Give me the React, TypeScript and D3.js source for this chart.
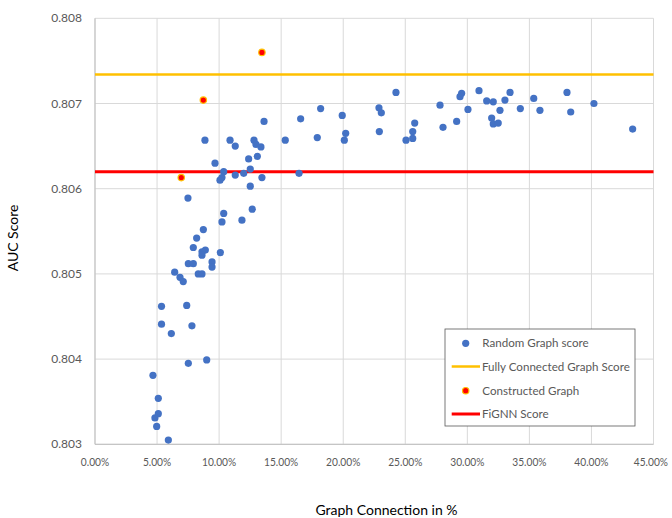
import React from "react";
import * as d3 from "d3";

// Random graph scores: connection (%) and AUC
const randomX = [
  5.36, 7.39, 5.36, 7.81, 6.15, 9.0, 7.52, 4.67, 5.1, 5.1, 4.83, 4.97, 5.91,
  6.42, 6.85, 7.11, 7.52, 7.92, 8.32, 8.62, 9.43, 9.43, 10.1, 7.92, 8.89, 8.62,
  8.62, 8.19, 8.73, 10.23, 10.37, 11.84, 12.67, 7.49, 12.51, 10.23, 10.07,
  10.37, 11.3, 11.98, 12.51, 13.45, 9.67, 12.38, 13.08, 8.86, 10.88, 11.3,
  12.81, 12.97, 13.37, 15.33, 13.62, 16.44, 16.57, 17.91, 18.18, 19.92, 20.2,
  20.09, 22.88, 23.07, 22.91, 24.25, 25.06, 25.6, 25.76, 25.6, 27.8, 28.04,
  29.14, 29.41, 29.54, 30.05, 30.94, 31.56, 32.09, 31.96, 32.09, 32.49, 32.63,
  33.03, 33.44, 34.27, 35.35, 35.85, 38.03, 38.33, 40.2, 43.32,
];
const randomY = [
  0.80462, 0.80463, 0.80441, 0.80439, 0.8043, 0.80399, 0.80395, 0.80381,
  0.80354, 0.80336, 0.80331, 0.80321, 0.80305, 0.80502, 0.80496, 0.80491,
  0.80512, 0.80512, 0.805, 0.805, 0.80514, 0.80508, 0.80525, 0.80531, 0.80528,
  0.80526, 0.80522, 0.80542, 0.80552, 0.80561, 0.80571, 0.80563, 0.80576,
  0.80589, 0.80603, 0.80613, 0.8061, 0.8062, 0.80616, 0.80618, 0.80623,
  0.80613, 0.8063, 0.80635, 0.80638, 0.80657, 0.80657, 0.8065, 0.80657,
  0.80652, 0.80649, 0.80657, 0.80679, 0.80618, 0.80682, 0.8066, 0.80694,
  0.80686, 0.80665, 0.80657, 0.80695, 0.80689, 0.80667, 0.80713, 0.80657,
  0.80667, 0.80677, 0.80659, 0.80698, 0.80672, 0.80679, 0.80708, 0.80712,
  0.80693, 0.80715, 0.80703, 0.80702, 0.80683, 0.80676, 0.80677, 0.80692,
  0.80704, 0.80713, 0.80694, 0.80706, 0.80692, 0.80713, 0.8069, 0.807, 0.8067,
];

// Constructed graphs
const constructedX = [13.45, 8.73, 6.95];
const constructedY = [0.8076, 0.80704, 0.80613];

// Reference lines
const fullyConnectedScore = 0.80734;
const fignnScore = 0.8062;

// Ticks
const xTicks = [0, 5, 10, 15, 20, 25, 30, 35, 40, 45];
const yTicks = [0.803, 0.804, 0.805, 0.806, 0.807, 0.808];

const legendLabels = [
  "Random Graph score",
  "Fully Connected Graph Score",
  "Constructed Graph",
  "FiGNN Score",
];

const W = 672;
const H = 518;
const left = 95;
const right = 653.5;
const top = 18.3;
const bottom = 444.3;
const FONT = "Lato, 'Open Sans', sans-serif";

// approximate Calibri-like text width for tick labels at 12px
function labelWidth(s: string) {
  let w = 0;
  for (const ch of s) {
    if (ch === ".") w += 2.8;
    else if (ch === "%") w += 8.0;
    else w += 5.85;
  }
  return w;
}

export default function App() {
  const x = d3.scaleLinear().domain([0, 45]).range([left, right]);
  const y = d3.scaleLinear().domain([0.803, 0.808]).range([bottom, top]);
  const blue = "#4472C4";
  const grid = "#D9D9D9";
  const tickColor = "#595959";

  const lx = 445;
  const ly = 329;
  const rows = [343.3, 366.5, 390.7, 414];

  return (
    <svg
      width={W}
      height={H}
      style={{ position: "absolute", left: 0, top: 0, background: "#fff" }}
      fontFamily={FONT}
    >
      <rect x={0} y={0} width={W} height={H} fill="#fff" />
      {/* grid */}
      {xTicks.map((t) => (
        <line key={"gx" + t} x1={x(t)} x2={x(t)} y1={top} y2={bottom} stroke={grid} strokeWidth={1} />
      ))}
      {yTicks.map((t) => (
        <line key={"gy" + t} x1={left} x2={right} y1={y(t)} y2={y(t)} stroke={grid} strokeWidth={1} />
      ))}
      {/* axes */}
      <line x1={left} x2={left} y1={top} y2={bottom} stroke="#BFBFBF" strokeWidth={1} />
      <line x1={left} x2={right} y1={bottom} y2={bottom} stroke="#BFBFBF" strokeWidth={1} />

      {/* reference lines */}
      <line x1={left} x2={right} y1={y(fullyConnectedScore)} y2={y(fullyConnectedScore)} stroke="#FFC000" strokeWidth={2.5} />
      <line x1={left} x2={right} y1={y(fignnScore)} y2={y(fignnScore)} stroke="#FF0000" strokeWidth={3} />

      {/* random points */}
      {randomX.map((v, i) => (
        <circle key={"r" + i} cx={x(v)} cy={y(randomY[i])} r={3.6} fill={blue} />
      ))}
      {/* constructed */}
      {constructedX.map((v, i) => (
        <circle key={"c" + i} cx={x(v)} cy={y(constructedY[i])} r={3.2} fill="#FF0000" stroke="#FFC000" strokeWidth={1.2} />
      ))}

      {/* tick labels */}
      {xTicks.map((t, i) => {
        const s = t.toFixed(2) + "%";
        const w = labelWidth(s);
        const last = i === xTicks.length - 1;
        const cx = x(t);
        const px = last ? Math.min(cx, W - 4 - w / 2) : cx;
        return (
          <text
            key={"tx" + t}
            x={px}
            y={466}
            textAnchor="middle"
            fontSize={11.5}
            fill={tickColor}
            textLength={w}
            lengthAdjust="spacingAndGlyphs"
          >
            {s}
          </text>
        );
      })}
      {yTicks.map((t) => (
        <text key={"ty" + t} x={82} y={y(t) + 4} textAnchor="end" fontSize={12} fill={tickColor}>
          {t.toFixed(3)}
        </text>
      ))}

      {/* axis titles */}
      <text x={386.5} y={515} textAnchor="middle" fontSize={14} fill="#000">
        Graph Connection in %
      </text>
      <text transform={`translate(18,238) rotate(-90)`} textAnchor="middle" fontSize={14} fill="#000">
        AUC Score
      </text>

      {/* legend */}
      <rect x={lx} y={ly} width={190} height={97} fill="#fff" stroke="#595959" strokeWidth={0.8} />
      <circle cx={465.7} cy={rows[0]} r={3.6} fill={blue} />
      <line x1={451.7} x2={480} y1={rows[1]} y2={rows[1]} stroke="#FFC000" strokeWidth={2.5} />
      <circle cx={465.7} cy={rows[2]} r={3.2} fill="#FF0000" stroke="#FFC000" strokeWidth={1.2} />
      <line x1={451.7} x2={480} y1={rows[3]} y2={rows[3]} stroke="#FF0000" strokeWidth={3} />
      {legendLabels.map((l, i) => (
        <text key={l} x={i % 2 === 1 ? 482 : 482.3} y={rows[i] + 4} fontSize={11.6} fill={tickColor}>
          {l}
        </text>
      ))}
    </svg>
  );
}
